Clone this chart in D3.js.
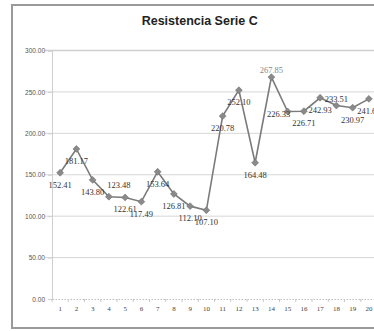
<!DOCTYPE html>
<html><head><meta charset="utf-8">
<script src="https://cdn.jsdelivr.net/npm/d3@7"></script>
<style>html,body{margin:0;padding:0;background:#fff;overflow:hidden}</style>
</head><body><svg id="c" width="374" height="331"></svg>
<script>
const title = "Resistencia Serie C";
const categories = [1,2,3,4,5,6,7,8,9,10,11,12,13,14,15,16,17,18,19,20];
const values = [152.41,181.17,143.80,123.48,122.61,117.49,153.64,126.81,112.10,107.10,220.78,252.10,164.48,267.85,226.33,226.71,242.93,233.51,230.97,241.60];
const labelPlacement = ["b","b","b","ar","b","b","b","b","b","b","b","b","b","a","l","b","b","a","b","b"];
const yTicks = [0,50,100,150,200,250,300];

const svg = d3.select("#c");
// frame
svg.append("rect").attr("x",0).attr("y",0).attr("width",374).attr("height",331).attr("fill","#fff");
svg.append("rect").attr("x",12).attr("y",5).attr("width",380).attr("height",323)
  .attr("fill","#fff").attr("stroke","#9a9a9a").attr("stroke-width",2);

const x = d3.scaleBand().domain(categories).range([52,377]).paddingInner(0).paddingOuter(0);
const y = d3.scaleLinear().domain([0,300]).range([299,50.5]);

// gridlines
svg.append("g").selectAll("line").data(yTicks.filter(d=>d>0)).join("line")
  .attr("x1",45).attr("x2",380).attr("y1",d=>y(d)).attr("y2",d=>y(d))
  .attr("stroke",d=>d===300?"#cfcfcf":"#d6d6d6").attr("stroke-width",d=>d===300?1.6:1);

// y axis
const yAxis = d3.axisLeft(y).tickValues(yTicks).tickFormat(d3.format(".2f")).tickSize(4).tickPadding(3);
const gy = svg.append("g").attr("transform","translate(52,0)").call(yAxis);
gy.select(".domain").attr("stroke","#cfcfcf");
gy.selectAll(".tick line").attr("stroke","#cfcfcf");
gy.selectAll("text").attr("font-family","Liberation Sans, Arial, sans-serif").attr("font-size",6.5).attr("fill","#555");

// x axis
const xAxis = d3.axisBottom(x).tickSize(0).tickPadding(7);
const gx = svg.append("g").attr("transform","translate(0,299)").call(xAxis);
gx.select(".domain").attr("stroke","#bdbdbd").attr("stroke-dasharray","1.5,1.5");
gx.selectAll("text").attr("font-family","Liberation Serif, serif").attr("font-size",7).attr("fill","#444");
gx.selectAll(".tb").data(categories).join("line").attr("class","tb")
  .attr("x1",d=>x(d)).attr("x2",d=>x(d)).attr("y1",0).attr("y2",3).attr("stroke","#c8c8c8");

// title
svg.append("text").attr("x",199.7).attr("y",25).attr("text-anchor","middle")
  .attr("font-family","Liberation Sans, Arial, sans-serif").attr("font-weight","bold")
  .attr("font-size",12).attr("fill","#222").attr("textLength",116).attr("lengthAdjust","spacingAndGlyphs").text(title);

const cx = d => x(d) + x.bandwidth()/2;
const data = categories.map((c,i)=>({c, v: values[i], p: labelPlacement[i]}));

// line
svg.append("path").datum(data)
  .attr("d", d3.line().x(d=>cx(d.c)).y(d=>y(d.v)))
  .attr("fill","none").attr("stroke","#7b7b7b").attr("stroke-width",1.6);

// markers
svg.append("g").selectAll("path").data(data).join("path")
  .attr("d", d3.symbol(d3.symbolDiamond2, 30))
  .attr("transform", d=>`translate(${cx(d.c)},${y(d.v)})`)
  .attr("fill","#8a8a8a").attr("stroke","#6f6f6f").attr("stroke-width",0.6);

// labels
const off = {b:[0,15], a:[0,-4], ar:[10,-9], l:[-9,5]};
svg.append("g").selectAll("text").data(data).join("text")
  .attr("x", d=>cx(d.c)+off[d.p][0]).attr("y", d=>y(d.v)+off[d.p][1])
  .attr("text-anchor","middle")
  .attr("font-family","Liberation Serif, serif").attr("font-size",8.5)
  .attr("fill", d=>d.p==="a" && d.c===14 ? "#888" : "#333")
  .text(d=>d3.format(".2f")(d.v));
</script></body></html>
